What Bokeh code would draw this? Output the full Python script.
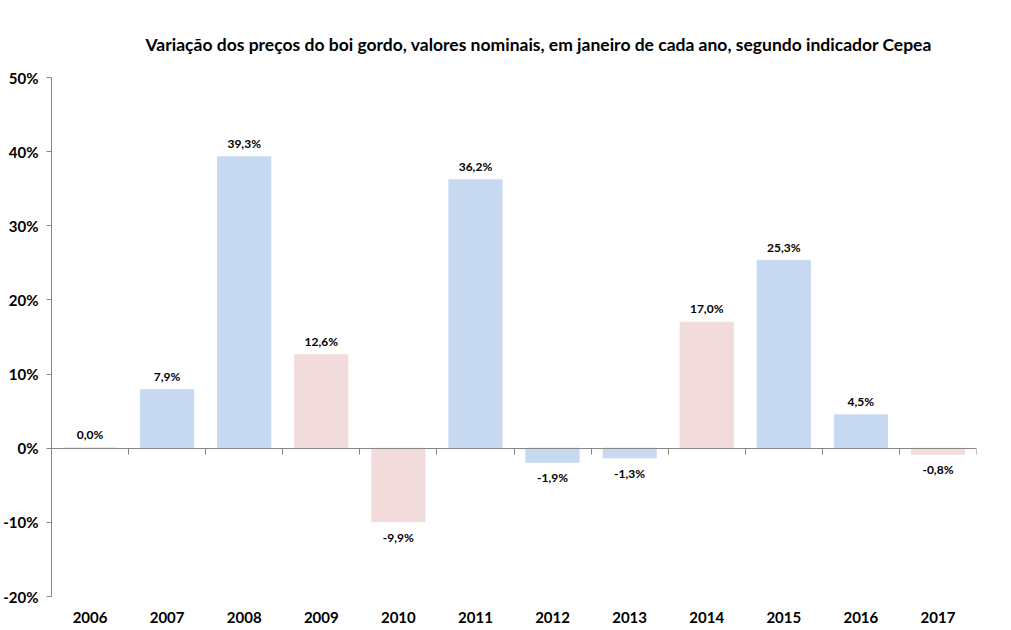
from bokeh.plotting import figure
from bokeh.models import (ColumnDataSource, LinearAxis, FixedTicker, PrintfTickFormatter,
                          LabelSet, Title, Range1d)
from bokeh.core.properties import value
from bokeh.embed import file_html
from bokeh.resources import INLINE

years = ["2006", "2007", "2008", "2009", "2010", "2011", "2012", "2013", "2014", "2015", "2016", "2017"]
values = [0.0, 7.9, 39.3, 12.6, -9.9, 36.2, -1.9, -1.3, 17.0, 25.3, 4.5, -0.8]
labels = ["0,0%", "7,9%", "39,3%", "12,6%", "-9,9%", "36,2%", "-1,9%", "-1,3%", "17,0%", "25,3%", "4,5%", "-0,8%"]
colors = ["#C6D9F1", "#C6D9F1", "#C6D9F1", "#F2DCDB", "#F2DCDB", "#C6D9F1",
          "#C6D9F1", "#C6D9F1", "#F2DCDB", "#C6D9F1", "#C6D9F1", "#F2DCDB"]
title_text = "Variação dos preços do boi gordo, valores nominais, em janeiro de cada ano, segundo indicador Cepea"

n = len(years)
xs = [i + 0.5 for i in range(n)]
src = ColumnDataSource(dict(
    x=xs, top=values, color=colors, label=labels,
    baseline=["bottom" if v >= 0 else "top" for v in values],
    yoff=[6 if v >= 0 else -8 for v in values],
))

p = figure(width=1011, height=630, output_backend="svg", toolbar_location=None,
           x_range=Range1d(0, n), y_range=Range1d(-20, 50),
           x_axis_location=None, y_axis_location=None,
           min_border_left=49, min_border_right=35, min_border_top=77, min_border_bottom=34)
p.outline_line_color = None
p.xgrid.visible = False
p.ygrid.visible = False
p.background_fill_color = "white"
p.border_fill_color = "white"

p.vbar(x="x", top="top", bottom=0, width=0.69, color="color", source=src)

FONT = "Lato"

# y axis
yax = LinearAxis(ticker=FixedTicker(ticks=list(range(-20, 51, 10))),
                 formatter=PrintfTickFormatter(format="%d%%"))
yax.axis_line_color = "#868686"
yax.major_tick_line_color = "#868686"
yax.major_tick_out = 5
yax.major_tick_in = 0
yax.minor_tick_line_color = None
yax.major_label_text_font = FONT
yax.major_label_text_font_style = "bold"
yax.major_label_text_font_size = "15px"
yax.major_label_text_color = "#000000"
yax.major_label_standoff = 8
p.add_layout(yax, "left")

# zero line axis with category boundary ticks
zax = LinearAxis(ticker=FixedTicker(ticks=list(range(n + 1))), fixed_location=0)
zax.axis_line_color = "#868686"
zax.major_tick_line_color = "#868686"
zax.major_tick_out = 6
zax.major_tick_in = 0
zax.minor_tick_line_color = None
zax.major_label_text_font_size = "0px"
zax.major_label_text_color = None
p.add_layout(zax, "below")

# category label axis at bottom
xax = LinearAxis(ticker=FixedTicker(ticks=xs),
                 major_label_overrides={x: y for x, y in zip(xs, years)})
xax.axis_line_color = None
xax.major_tick_line_color = None
xax.minor_tick_line_color = None
xax.major_label_text_font = FONT
xax.major_label_text_font_style = "bold"
xax.major_label_text_font_size = "15px"
xax.major_label_text_color = "#000000"
xax.major_label_standoff = 9
p.add_layout(xax, "below")

ls = LabelSet(x="x", y="top", text="label", source=src, y_offset="yoff",
              text_align="center", text_baseline="baseline",
              text_font=value(FONT), text_font_style=value("bold"), text_font_size=value("12px"),
              text_color=value("#000000"))
p.add_layout(ls)

title = Title(text=title_text, align="left", offset=94, standoff=45,
              text_font=FONT, text_font_style="bold", text_font_size="17.5px", text_color="#000000")
p.add_layout(title, "above")

open("out.html", "w").write(file_html(p, INLINE))
